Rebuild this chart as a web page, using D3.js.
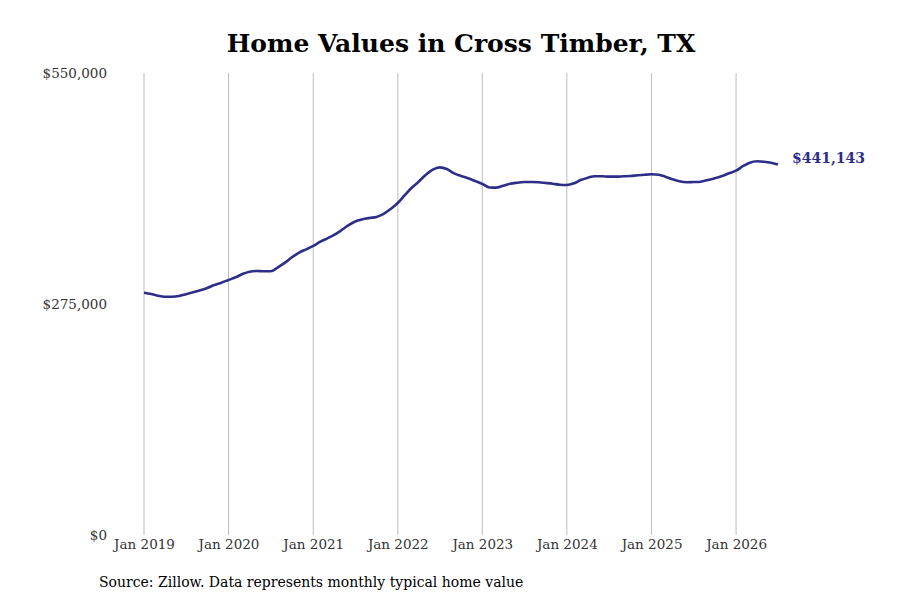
<!DOCTYPE html>
<html>
<head>
<meta charset="utf-8">
<script src="https://cdn.jsdelivr.net/npm/d3@7"></script>
<style>
  body { margin: 0; background: #fff; }
  text { font-family: "DejaVu Serif", serif; }
</style>
</head>
<body>
<div id="chart"></div>
<script>
"use strict";

// monthly typical home value, Jan 2019 .. Jul 2026
var startMonth = "2019-01";
var values = [
  288500, 286900, 284900, 283700, 283700, 284500, 286600, 288900, 291300, 294100, 297600, 300400,
  303600, 306800, 310700, 313500, 314300, 313900, 313900, 318700, 324200, 330600, 336100, 340100,
  344100, 349200, 352900, 357200, 362500, 368500, 373200, 375800, 377400, 378600, 382200, 388100,
  395200, 404800, 413100, 420600, 428600, 434900, 437700, 435700, 430600, 427400, 424700, 421400,
  417900, 413700, 413500, 415800, 418200, 419400, 420200, 420200, 419900, 419100, 418200, 417000,
  416700, 418700, 422600, 425400, 427000, 427000, 426600, 426600, 427000, 427400, 428200, 428900,
  429400, 428900, 426600, 423500, 421100, 419900, 420200, 420600, 422600, 424700, 427400, 430600,
  433700, 439300, 443200, 444900, 444400, 443200, 441143
];
var yTicks = [0, 275000, 550000];
var xTickYears = [2019, 2020, 2021, 2022, 2023, 2024, 2025, 2026];

var title = "Home Values in Cross Timber, TX";
var source = "Source: Zillow. Data represents monthly typical home value";
var lineColor = "#2e2e8a";

var parseMonth = d3.timeParse("%Y-%m");
var start = parseMonth(startMonth);
var data = values.map(function(v, i) {
  return { date: d3.timeMonth.offset(start, i), value: v };
});

var width = 900, height = 600;
var svg = d3.select("#chart").append("svg")
  .attr("width", width)
  .attr("height", height);

var x = d3.scaleTime()
  .domain([data[0].date, data[data.length - 1].date])
  .range([144, 778]);

var y = d3.scaleLinear()
  .domain([0, 550000])
  .range([535, 73]);

// vertical grid lines at each January
var xTicks = xTickYears.map(function(yr) { return new Date(yr, 0, 1); });
svg.append("g")
  .selectAll("line")
  .data(xTicks)
  .enter().append("line")
  .attr("x1", function(d) { return x(d); })
  .attr("x2", function(d) { return x(d); })
  .attr("y1", y(550000))
  .attr("y2", y(0))
  .attr("stroke", "#bdbdbd")
  .attr("stroke-width", 1);

// x labels
var xAxis = d3.axisBottom(x)
  .tickValues(xTicks)
  .tickFormat(d3.timeFormat("%b %Y"))
  .tickSize(0)
  .tickPadding(4);
var gx = svg.append("g")
  .attr("transform", "translate(0," + y(0) + ")")
  .call(xAxis);
gx.select(".domain").remove();
gx.selectAll("text")
  .attr("font-family", "DejaVu Serif, serif")
  .attr("font-size", 13.5)
  .attr("fill", "#333");

// y labels
var yAxis = d3.axisLeft(y)
  .tickValues(yTicks)
  .tickFormat(function(d) { return "$" + d3.format(",")(d); })
  .tickSize(0)
  .tickPadding(0);
var gy = svg.append("g")
  .attr("transform", "translate(107,0)")
  .call(yAxis);
gy.select(".domain").remove();
gy.selectAll("text")
  .attr("font-family", "DejaVu Serif, serif")
  .attr("font-size", 13.5)
  .attr("fill", "#333");

// the line
var line = d3.line()
  .x(function(d) { return x(d.date); })
  .y(function(d) { return y(d.value); })
  .curve(d3.curveMonotoneX);

svg.append("path")
  .datum(data)
  .attr("d", line)
  .attr("fill", "none")
  .attr("stroke", lineColor)
  .attr("stroke-width", 2.6)
  .attr("stroke-linejoin", "round");

// end label
var last = data[data.length - 1];
svg.append("text")
  .attr("x", x(last.date) + 14)
  .attr("y", y(last.value) - 6)
  .attr("dy", "0.35em")
  .attr("font-size", 14)
  .attr("font-weight", "bold")
  .attr("fill", lineColor)
  .text("$" + d3.format(",")(last.value));

// title
svg.append("text")
  .attr("x", 461)
  .attr("y", 52)
  .attr("text-anchor", "middle")
  .attr("font-size", 25)
  .attr("font-weight", "bold")
  .attr("fill", "#000")
  .text(title);

// source note
svg.append("text")
  .attr("x", 99)
  .attr("y", 587)
  .attr("font-size", 14)
  .attr("fill", "#000")
  .text(source);
</script>
</body>
</html>
